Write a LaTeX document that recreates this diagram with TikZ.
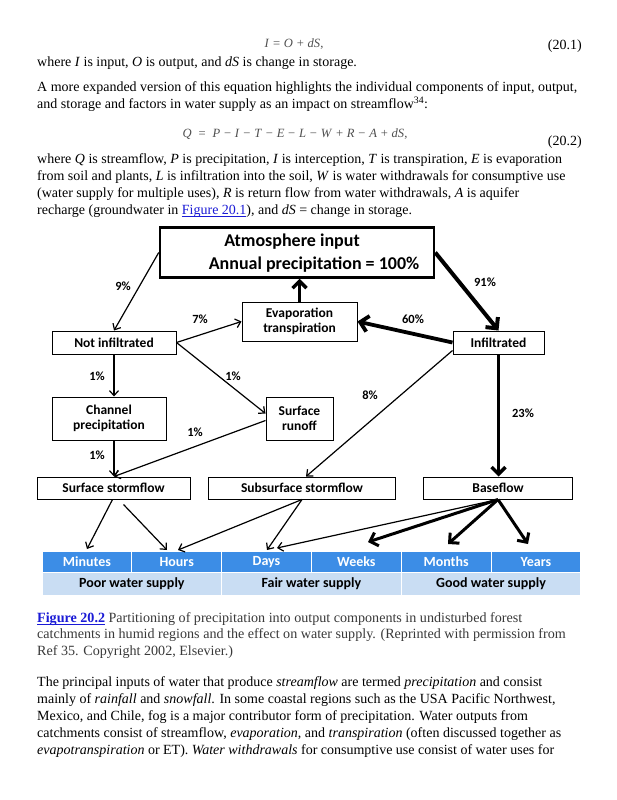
\documentclass[tikz,border=0pt]{standalone}
\usepackage{fontspec}
\setmainfont{Liberation Serif}
\newfontfamily\dfont{Carlito}
\usetikzlibrary{arrows.meta,calc}
\definecolor{barblue}{HTML}{3C8DE6}
\definecolor{barlight}{HTML}{C9DDF3}
\definecolor{linkblue}{HTML}{1A1AD6}
\definecolor{capgrey}{HTML}{3A3A3A}
\definecolor{eqgrey}{HTML}{505050}
\newcommand{\flink}[1]{\textcolor{linkblue}{\setbox0\hbox{#1}\rlap{\rule[-1.7pt]{\wd0}{0.6pt}}\box0}}
\newcommand{\eqop}[1]{\hspace{0.3em}#1\hspace{0.3em}}
\newcommand{\eqeq}{\hspace{0.55em}=\hspace{0.55em}}
\begin{document}
\begin{tikzpicture}[x=1pt,y=-1pt,
  txt/.style={anchor=base west, inner sep=0pt, font=\fontsize{14}{16}\selectfont},
  captxt/.style={txt, text=capgrey, font=\fontsize{14.1}{16}\selectfont},
  eqn/.style={inner sep=0pt, text=eqgrey, font=\fontsize{12.6}{14}\selectfont},
  eqno/.style={anchor=base east, inner sep=0pt, font=\fontsize{14}{16}\selectfont},
  box/.style={draw, line width=1pt, inner sep=0pt, align=center,
    font=\dfont\bfseries\fontsize{13.5}{15.5}\selectfont},
  atmtxt/.style={inner sep=0pt, font=\dfont\bfseries\fontsize{18}{20}\selectfont},
  pct/.style={inner sep=0pt, font=\dfont\bfseries\fontsize{12.5}{14}\selectfont},
  thinarr/.style={line width=1.2pt, -{Straight Barb[length=5pt,width=9pt]}},
  midarr/.style={line width=3pt, -{Straight Barb[length=7pt,width=14pt]}},
  bigarr/.style={line width=4pt, -{Straight Barb[length=8pt,width=16pt]}},
  cell/.style={draw=white, line width=1pt, fill=barblue, text=white, inner sep=0pt,
    minimum width=89.8pt, minimum height=21pt, font=\dfont\bfseries\fontsize{14}{16}\selectfont},
  lcell/.style={draw=white, line width=1pt, fill=barlight, text=black, inner sep=0pt,
    minimum width=179.6pt, minimum height=23pt, font=\dfont\bfseries\fontsize{14}{16}\selectfont}
]
\useasboundingbox[fill=white] (0,0) rectangle (617,800);

% ---------- top text ----------
\node[eqn] (eq1) at (294,44) {\textit{I}\eqop{=}\textit{O}\eqop{+}\textit{dS},};
\node[eqno] (eq1n) at (582,50) {(20.1)};
\node[txt] (t1) at (37,66.5) {where \textit{I} is input, \textit{O} is output, and \textit{dS} is change in storage.};
\node[txt] (t2) at (37,91.5) {A more expanded version of this equation highlights the individual components of input, output,};
\node[txt] (t3) at (37,108.5) {and storage and factors in water supply as an impact on streamflow\textsuperscript{34}:};
\node[eqn] (eq2) at (295,134) {\textit{Q}\eqeq\textit{P}\eqop{−}\textit{I}\eqop{−}\textit{T}\eqop{−}\textit{E}\eqop{−}\textit{L}\eqop{−}\textit{W}\eqop{+}\textit{R}\eqop{−}\textit{A}\eqop{+}\textit{dS},};
\node[eqno] (eq2n) at (582,145) {(20.2)};
\node[txt] (t4) at (37,163.5) {where \textit{Q} is streamflow, \textit{P} is precipitation, \textit{I} is interception, \textit{T} is transpiration, \textit{E} is evaporation};
\node[txt] (t5) at (37,180.5) {from soil and plants, \textit{L} is infiltration into the soil, \textit{W} is water withdrawals for consumptive use};
\node[txt] (t6) at (37,197.5) {(water supply for multiple uses), \textit{R} is return flow from water withdrawals, \textit{A} is aquifer};
\node[txt] (t7) at (37,214.5) {recharge (groundwater in \flink{Figure 20.1}), and \textit{dS} = change in storage.};

% ---------- diagram boxes ----------
\node[box, line width=2.5pt, minimum width=274pt, minimum height=50pt] (atm) at (297,252.5) {};
\node[atmtxt] (atm1) at (292,242) {Atmosphere input};
\node[atmtxt] (atm2) at (314,265) {Annual precipitation = 100\%};
\node[box, minimum width=115pt, minimum height=39pt] (ev) at (299.5,321.5) {Evaporation\\transpiration};
\node[box, minimum width=124pt, minimum height=23pt] (ni) at (114,342.5) {Not infiltrated};
\node[box, minimum width=91pt, minimum height=23pt] (inf) at (498.5,342.5) {Infiltrated};
\node[box, minimum width=114pt, minimum height=43pt] (cp) at (109,418.5) {Channel\\precipitation};
\node[box, minimum width=67pt, minimum height=43pt] (sr) at (299.5,418.5) {Surface\\runoff};
\node[box, minimum width=153pt, minimum height=22pt] (ss) at (113.5,488) {Surface stormflow};
\node[box, minimum width=187pt, minimum height=22pt] (sub) at (302,488) {Subsurface stormflow};
\node[box, minimum width=149pt, minimum height=22pt] (base) at (498,488) {Baseflow};

% ---------- bar ----------
\node[cell] (c1) at (86.9,562) {Minutes};
\node[cell] (c2) at (176.7,562) {Hours};
\node[cell] (c3) at (266.5,562) {Days};
\node[cell] (c4) at (356.3,562) {Weeks};
\node[cell] (c5) at (446.1,562) {Months};
\node[cell] (c6) at (535.9,562) {Years};
\node[lcell] (p1) at (131.8,584) {Poor water supply};
\node[lcell] (p2) at (311.4,584) {Fair water supply};
\node[lcell] (p3) at (491,584) {Good water supply};

% ---------- connectors ----------
\draw[thinarr] (atm.west) -- (ni.north);
\draw[bigarr] (atm.east) -- (inf.north);
\draw[midarr, line width=3.5pt] (ev.north) -- (ev.north |- atm.south);
\draw[thinarr] (ni.east) -- (ev.west);
\draw[bigarr, line width=3.8pt] (inf.west) -- (ev.east);
\draw[thinarr] (ni.east) -- ([yshift=5pt]sr.west);
\draw[thinarr] (ni.south) -- (ni.south |- cp.north);
\draw[thinarr] (ni.south |- cp.south) -- (ni.south |- ss.north);
\draw[thinarr] ([yshift=-2pt]sr.west) -- (ni.south |- ss.north);
\draw[thinarr] ([yshift=4pt]inf.south west) -- ([xshift=4pt]sub.north);
\draw[midarr, line width=3.5pt] (inf.south) -- (inf.south |- base.north);

\coordinate (tMin) at (87,549);
\coordinate (tHr1) at (167,550);
\coordinate (tHr2) at (178,550);
\coordinate (tDy1) at (267,550);
\coordinate (tDy2) at (277,548);
\coordinate (tWk) at (368,542);
\coordinate (tMo) at (448,544);
\coordinate (tYr) at (528,544);
\draw[thinarr] ([xshift=-1pt]ss.south) -- (tMin);
\draw[thinarr] ([xshift=10pt,yshift=-5pt]ss.south) -- (tHr1);
\draw[thinarr] (sub.south) -- (tHr2);
\draw[thinarr] (sub.south) -- (tDy1);
\draw[thinarr] (base.south) -- (tDy2);
\draw[midarr] (base.south) -- (tWk);
\draw[midarr] (base.south) -- (tMo);
\draw[midarr] (base.south) -- (tYr);

% ---------- percentage labels ----------
\node[pct] (l9) at (123,286) {9\%};
\node[pct] (l91) at (485,282) {91\%};
\node[pct] (l7) at (200,319) {7\%};
\node[pct] (l60) at (413,319) {60\%};
\node[pct] (l1a) at (97,376) {1\%};
\node[pct] (l1b) at (233,376) {1\%};
\node[pct] (l8) at (370,395) {8\%};
\node[pct] (l23) at (523,413) {23\%};
\node[pct] (l1c) at (195,432) {1\%};
\node[pct] (l1d) at (97,455) {1\%};

% ---------- caption and paragraph ----------
\node[captxt] (c1l) at (37,622.5) {\flink{\textbf{Figure 20.2}} Partitioning of precipitation into output components in undisturbed forest};
\node[captxt] (c2l) at (37,638.5) {catchments in humid regions and the effect on water supply. (Reprinted with permission from};
\node[captxt] (c3l) at (37,655.5) {Ref 35. Copyright 2002, Elsevier.)};
\node[txt] (q1) at (37,686.5) {The principal inputs of water that produce \textit{streamflow} are termed \textit{precipitation} and consist};
\node[txt] (q2) at (37,703.5) {mainly of \textit{rainfall} and \textit{snowfall}. In some coastal regions such as the USA Pacific Northwest,};
\node[txt] (q3) at (37,720.5) {Mexico, and Chile, fog is a major contributor form of precipitation. Water outputs from};
\node[txt] (q4) at (37,737.5) {catchments consist of streamflow, \textit{evaporation}, and \textit{transpiration} (often discussed together as};
\node[txt] (q5) at (37,754.5) {\textit{evapotranspiration} or ET). \textit{Water withdrawals} for consumptive use consist of water uses for};
\end{tikzpicture}
\end{document}
